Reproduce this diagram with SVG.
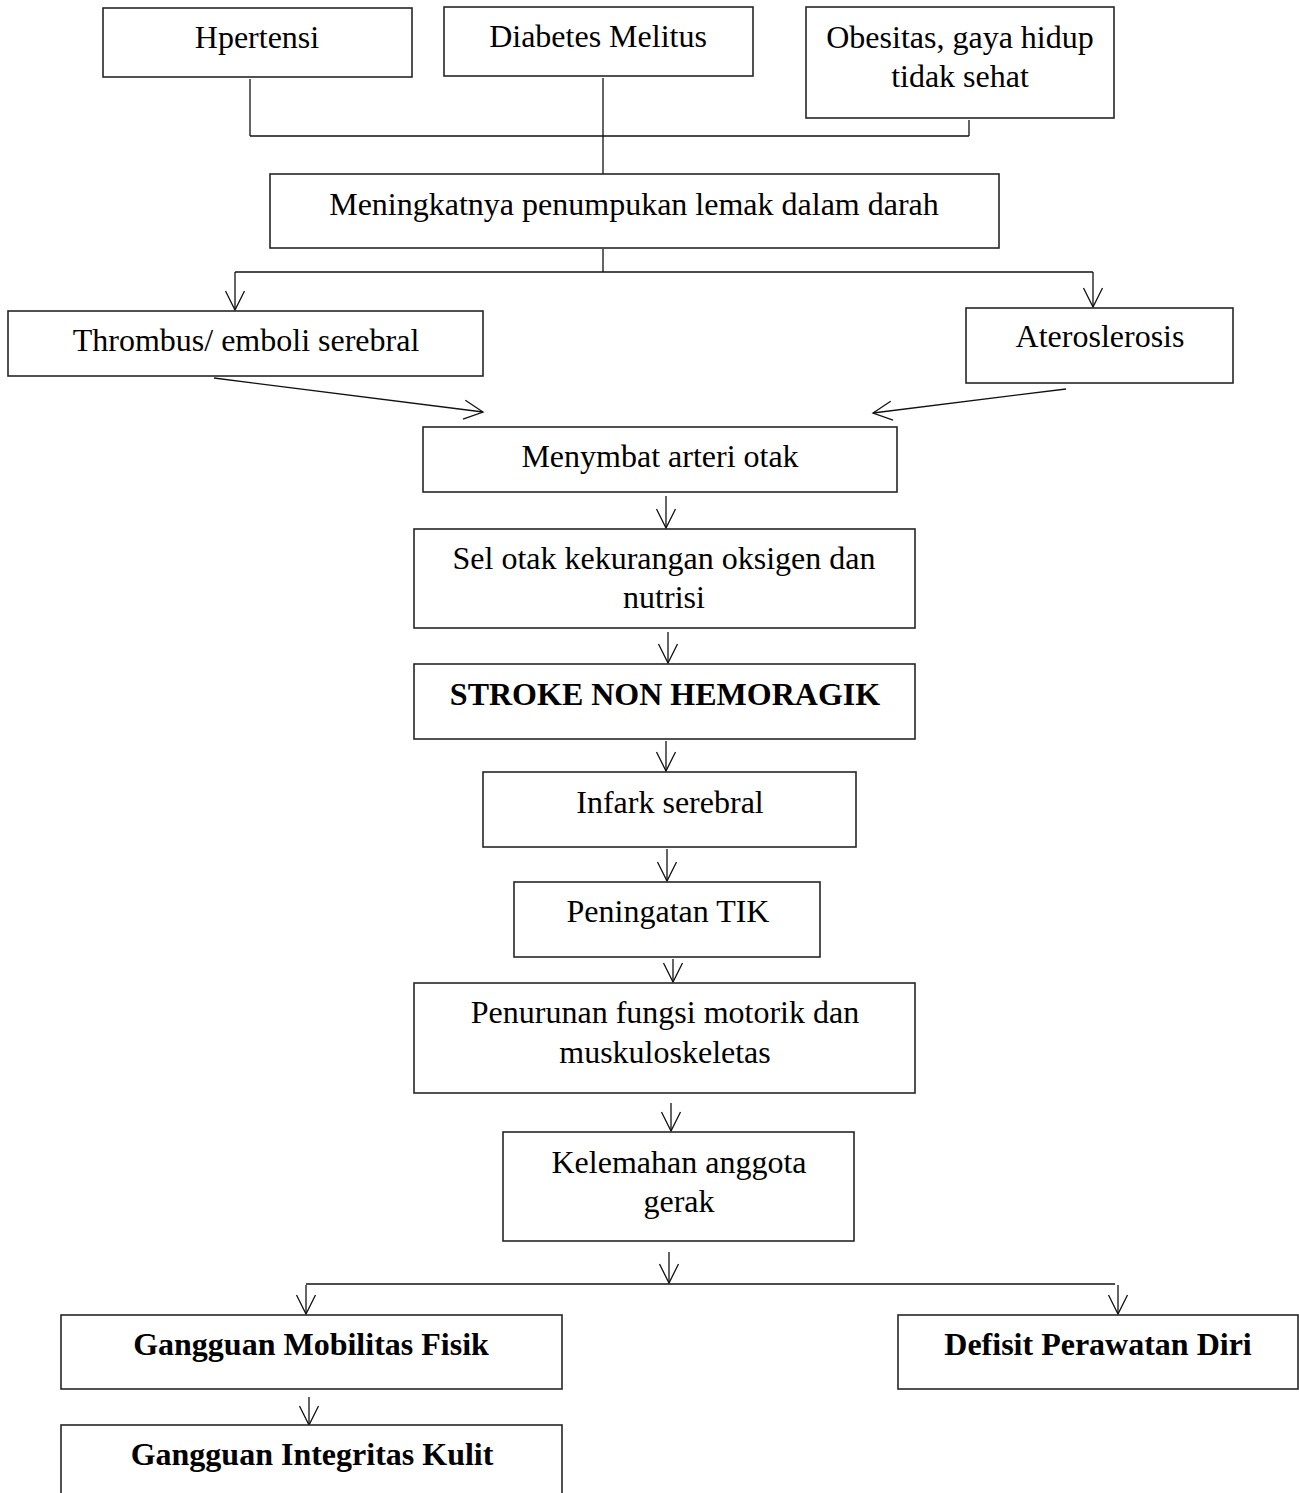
<svg xmlns="http://www.w3.org/2000/svg" width="1299" height="1493" viewBox="0 0 1299 1493">
<style>
.box{fill:#fff;stroke:#262626;stroke-width:1.6}
.t{font-family:"Liberation Serif","Times New Roman",serif;font-size:32px;fill:#000;text-anchor:middle}
.b{font-weight:bold}
.c{fill:none;stroke:#111;stroke-width:1.3}
</style>
<defs>
<marker id="ah" markerUnits="userSpaceOnUse" viewBox="0 0 22 22" markerWidth="22" markerHeight="22" refX="20" refY="11" orient="auto">
<path d="M1,1.5 L20,11 L1,20.5" fill="none" stroke="#111" stroke-width="1.3"/>
</marker>
</defs>
<rect width="1299" height="1493" fill="#fff"/>
<g id="connectors">
<line class="c" x1="250" y1="79" x2="250" y2="136"/>
<line class="c" x1="603" y1="78" x2="603" y2="174"/>
<line class="c" x1="969" y1="120" x2="969" y2="136"/>
<line class="c" x1="250" y1="136" x2="969" y2="136"/>
<line class="c" x1="603" y1="249" x2="603" y2="272"/>
<line class="c" x1="235" y1="272" x2="1093" y2="272"/>
<line class="c" x1="235" y1="272" x2="235" y2="310" marker-end="url(#ah)"/>
<line class="c" x1="1093" y1="272" x2="1093" y2="307" marker-end="url(#ah)"/>
<line class="c" x1="214" y1="378" x2="483" y2="412" marker-end="url(#ah)"/>
<line class="c" x1="1066" y1="389" x2="873" y2="413" marker-end="url(#ah)"/>
<line class="c" x1="666" y1="496" x2="666" y2="528" marker-end="url(#ah)"/>
<line class="c" x1="668" y1="632" x2="668" y2="663" marker-end="url(#ah)"/>
<line class="c" x1="666" y1="741" x2="666" y2="771" marker-end="url(#ah)"/>
<line class="c" x1="667" y1="849" x2="667" y2="881" marker-end="url(#ah)"/>
<line class="c" x1="673" y1="959" x2="673" y2="982" marker-end="url(#ah)"/>
<line class="c" x1="671" y1="1103" x2="671" y2="1131" marker-end="url(#ah)"/>
<line class="c" x1="669" y1="1252" x2="669" y2="1283" marker-end="url(#ah)"/>
<line class="c" x1="306" y1="1284" x2="1115" y2="1284"/>
<line class="c" x1="306" y1="1285" x2="306" y2="1314" marker-end="url(#ah)"/>
<line class="c" x1="1118" y1="1285" x2="1118" y2="1314" marker-end="url(#ah)"/>
<line class="c" x1="309" y1="1397" x2="309" y2="1425" marker-end="url(#ah)"/>
</g>
<g id="n-hpertensi"><rect class="box" x="103" y="8" width="309" height="69"/><text class="t" x="257" y="48">Hpertensi</text></g>
<g id="n-diabetes"><rect class="box" x="444" y="7" width="309" height="69"/><text class="t" x="598" y="47">Diabetes Melitus</text></g>
<g id="n-obesitas"><rect class="box" x="806" y="7" width="308" height="111"/><text class="t" x="960" y="48">Obesitas, gaya hidup</text><text class="t" x="960" y="87">tidak sehat</text></g>
<g id="n-lemak"><rect class="box" x="270" y="174" width="729" height="74"/><text class="t" x="634" y="215">Meningkatnya penumpukan lemak dalam darah</text></g>
<g id="n-thrombus"><rect class="box" x="8" y="311" width="475" height="65"/><text class="t" x="246" y="351">Thrombus/ emboli serebral</text></g>
<g id="n-ateros"><rect class="box" x="966" y="308" width="267" height="75"/><text class="t" x="1100" y="347">Ateroslerosis</text></g>
<g id="n-menymbat"><rect class="box" x="423" y="427" width="474" height="65"/><text class="t" x="660" y="467">Menymbat arteri otak</text></g>
<g id="n-sel"><rect class="box" x="414" y="529" width="501" height="99"/><text class="t" x="664" y="569">Sel otak kekurangan oksigen dan</text><text class="t" x="664" y="608">nutrisi</text></g>
<g id="n-stroke"><rect class="box" x="414" y="664" width="501" height="75"/><text class="t b" x="665" y="705">STROKE NON HEMORAGIK</text></g>
<g id="n-infark"><rect class="box" x="483" y="772" width="373" height="75"/><text class="t" x="670" y="813">Infark serebral</text></g>
<g id="n-tik"><rect class="box" x="514" y="882" width="306" height="75"/><text class="t" x="668" y="922">Peningatan TIK</text></g>
<g id="n-penurunan"><rect class="box" x="414" y="983" width="501" height="110"/><text class="t" x="665" y="1023">Penurunan fungsi motorik dan</text><text class="t" x="665" y="1063">muskuloskeletas</text></g>
<g id="n-kelemahan"><rect class="box" x="503" y="1132" width="351" height="109"/><text class="t" x="679" y="1173">Kelemahan anggota</text><text class="t" x="679" y="1212">gerak</text></g>
<g id="n-mobilitas"><rect class="box" x="61" y="1315" width="501" height="74"/><text class="t b" x="311" y="1355">Gangguan Mobilitas Fisik</text></g>
<g id="n-defisit"><rect class="box" x="898" y="1315" width="400" height="74"/><text class="t b" x="1098" y="1355">Defisit Perawatan Diri</text></g>
<g id="n-integritas"><rect class="box" x="61" y="1425" width="501" height="90"/><text class="t b" x="312" y="1465">Gangguan Integritas Kulit</text></g>
</svg>
